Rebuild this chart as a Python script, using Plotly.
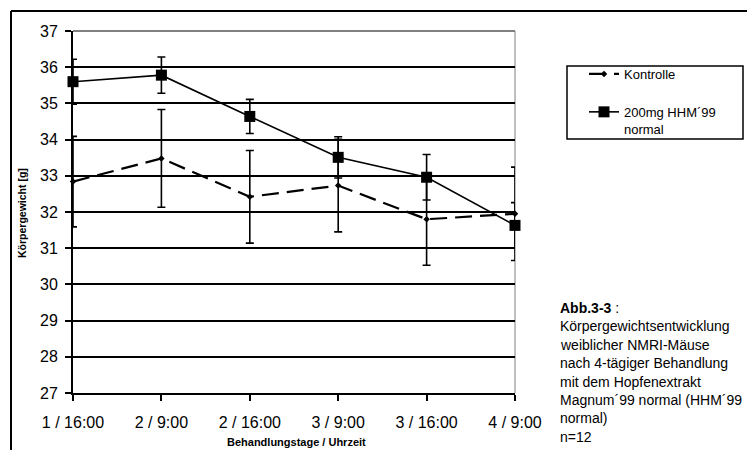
import plotly.graph_objects as go

# Measurement points (day / time of day)
zeitpunkte = ["1 / 16:00", "2 / 9:00", "2 / 16:00", "3 / 9:00", "3 / 16:00", "4 / 9:00"]

# Mean body weight [g] and standard deviation per group
kontrolle = [32.84, 33.48, 32.42, 32.73, 31.80, 31.95]
kontrolle_sd = [1.25, 1.35, 1.28, 1.28, 1.27, 1.29]
hhm = [35.60, 35.78, 34.64, 33.51, 32.96, 31.63]
hhm_sd = [0.62, 0.50, 0.47, 0.57, 0.63, 0.63]

y_ticks = [27, 28, 29, 30, 31, 32, 33, 34, 35, 36, 37]

beschriftung = [
    "<b>Abb.3-3</b> :",
    "Körpergewichtsentwicklung",
    "weiblicher NMRI-Mäuse",
    "nach 4-tägiger Behandlung",
    "mit dem Hopfenextrakt",
    "Magnum´99 normal (HHM´99",
    "normal)",
    "n=12",
]

FONT = "Arial, Liberation Sans, sans-serif"
W, H = 747, 450
L, R, T, B = 73, 232, 31, 57
PW, PH = W - L - R, H - T - B


def px_x(px):
    return (px - L) / PW


def px_y(py):
    return (H - B - py) / PH


fig = go.Figure()

fig.add_trace(go.Scatter(
    x=zeitpunkte, y=kontrolle, name="Kontrolle", legendgroup="a",
    mode="lines+markers",
    line=dict(color="black", width=2.2, dash="17px,8px"),
    marker=dict(symbol="diamond", size=5, color="black"),
    error_y=dict(type="data", array=kontrolle_sd, color="black", thickness=1.6, width=4),
    cliponaxis=False,
))

fig.add_trace(go.Scatter(
    x=zeitpunkte, y=hhm, name="200mg HHM´99<br>normal", legendgroup="b",
    mode="lines+markers",
    line=dict(color="black", width=1.6),
    marker=dict(symbol="square", size=11, color="black"),
    error_y=dict(type="data", array=hhm_sd, color="black", thickness=1.6, width=4),
    cliponaxis=False,
))

annotations = [
    dict(text="<b>Behandlungstage / Uhrzeit</b>", x=px_x(296), y=px_y(442),
         xref="paper", yref="paper", xanchor="center", yanchor="middle",
         showarrow=False, font=dict(family=FONT, size=11, color="black")),
    dict(text="<b>Körpergewicht [g]</b>", x=px_x(21.5), y=px_y(213.5),
         xref="paper", yref="paper", xanchor="center", yanchor="middle",
         showarrow=False, textangle=-90,
         font=dict(family=FONT, size=10.5, color="black")),
]
for i, zeile in enumerate(beschriftung):
    annotations.append(dict(
        text=zeile, x=px_x(558), y=px_y(308 + i * 18.4),
        xref="paper", yref="paper", xanchor="left", yanchor="middle",
        showarrow=False, font=dict(family=FONT, size=14, color="black"),
    ))

shapes = [
    # outer frame (left and top edges)
    dict(type="line", xref="paper", yref="paper", x0=px_x(11), x1=px_x(W + 20),
         y0=px_y(11), y1=px_y(11), line=dict(color="black", width=2)),
    dict(type="line", xref="paper", yref="paper", x0=px_x(11), x1=px_x(11),
         y0=px_y(11), y1=px_y(H + 20), line=dict(color="black", width=2)),
    # plot area border (top and right)
    dict(type="line", xref="paper", yref="paper", x0=0, x1=1, y0=1, y1=1,
         line=dict(color="#808080", width=2), layer="above"),
    dict(type="line", xref="paper", yref="paper", x0=1, x1=1, y0=0, y1=1,
         line=dict(color="#808080", width=1), layer="below"),
    # legend frame
    dict(type="rect", xref="paper", yref="paper", x0=px_x(567), x1=px_x(743),
         y0=px_y(66), y1=px_y(139), line=dict(color="black", width=1.5)),
]

fig.update_layout(
    width=W, height=H,
    margin=dict(l=L, r=R, t=T, b=B),
    paper_bgcolor="white", plot_bgcolor="white",
    font=dict(family=FONT, color="black"),
    showlegend=True,
    legend=dict(
        x=px_x(584), y=px_y(59), xanchor="left", yanchor="top",
        borderwidth=0, bgcolor="rgba(0,0,0,0)",
        font=dict(family=FONT, size=13, color="black"),
        valign="top", traceorder="grouped", tracegroupgap=18,
    ),
    xaxis=dict(
        type="category", range=[0, 5],
        showline=True, linecolor="black", linewidth=2,
        ticks="outside", ticklen=6, tickwidth=2, tickcolor="black",
        showgrid=False, zeroline=False,
        tickfont=dict(family=FONT, size=16, color="black"),
        ticklabelstandoff=8,
    ),
    yaxis=dict(
        range=[27, 37], tickvals=y_ticks,
        showline=True, linecolor="black", linewidth=2,
        ticks="outside", ticklen=6, tickwidth=2, tickcolor="black",
        showgrid=True, gridcolor="black", gridwidth=1.6, zeroline=False,
        tickfont=dict(family=FONT, size=16, color="black"),
        ticklabelstandoff=4,
    ),
    annotations=annotations,
    shapes=shapes,
)

fig.write_html("out.html")
